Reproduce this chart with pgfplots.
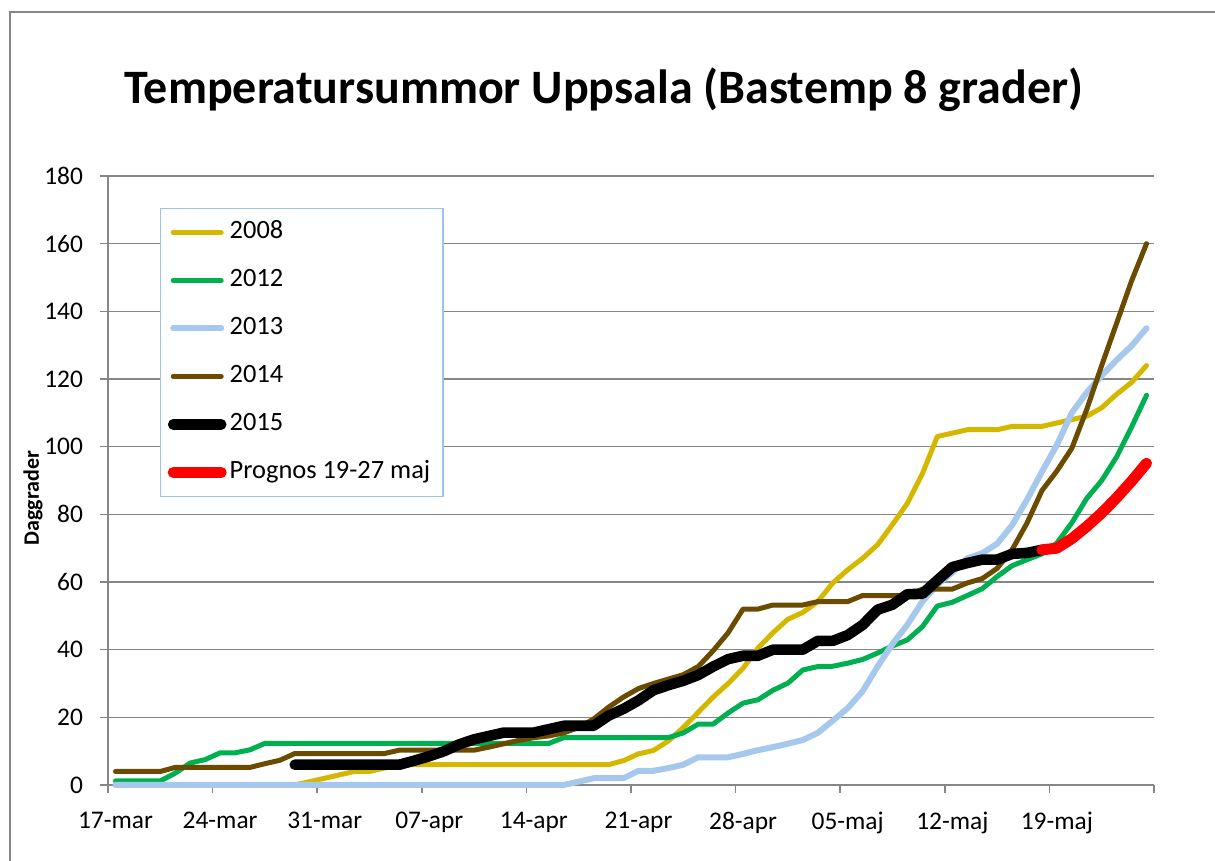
\documentclass[border=0pt]{standalone}
\usepackage{pgfplots}
\pgfplotsset{compat=1.18}
\usepackage{pgfplotstable}
\usepackage{fontspec}
\setmainfont{Carlito}
\definecolor{c2008}{HTML}{D4B800}
\definecolor{c2012}{HTML}{00B050}
\definecolor{c2013}{HTML}{A6C8EC}
\definecolor{c2014}{HTML}{6B4B00}
\definecolor{axgray}{HTML}{868686}
\definecolor{legblue}{HTML}{9DC3E6}

% i = day index (0 = 17 mar, 69 = 25 maj)
\pgfplotstableread{
i  a     b     c     d     e     f
0  0     1.2   0     4     nan   nan
1  0     1.2   0     4     nan   nan
2  0     1.2   0     4     nan   nan
3  0     1.2   0     4     nan   nan
4  0     3.5   0     5.2   nan   nan
5  0     6.5   0     5.2   nan   nan
6  0     7.5   0     5.2   nan   nan
7  0     9.5   0     5.2   nan   nan
8  0     9.5   0     5.2   nan   nan
9  0     10.4  0     5.2   nan   nan
10 0     12.3  0     6.3   nan   nan
11 0     12.3  0     7.3   nan   nan
12 0     12.3  0     9.3   6     nan
13 1     12.3  0     9.3   6     nan
14 2     12.3  0     9.3   6     nan
15 3     12.3  0     9.3   6     nan
16 4     12.3  0     9.3   6     nan
17 4     12.3  0     9.3   6     nan
18 5     12.3  0     9.3   6     nan
19 6     12.3  0     10.3  6     nan
20 6     12.3  0     10.3  7.2   nan
21 6     12.3  0     10.3  8.5   nan
22 6     12.3  0     10.3  10    nan
23 6     12.3  0     10.3  12    nan
24 6     12.3  0     10.3  13.5  nan
25 6     12.3  0     11.2  14.5  nan
26 6     12.3  0     12.2  15.5  nan
27 6     12.3  0     13.2  15.5  nan
28 6     12.3  0     14    15.5  nan
29 6     12.3  0     14.5  16.5  nan
30 6     14    0     15.4  17.5  nan
31 6     14    1     17    17.5  nan
32 6     14    2     19.5  17.5  nan
33 6     14    2     23    20.5  nan
34 7.2   14    2     26    22.5  nan
35 9.2   14    4.2   28.5  25    nan
36 10.2  14    4.2   30    28    nan
37 13    14    5     31.3  29.5  nan
38 17    15.4  6     32.6  30.8  nan
39 21.5  18    8.2   35    32.5  nan
40 26    18    8.2   39.7  35    nan
41 30    21.3  8.2   45    37.2  nan
42 34.5  24.2  9.2   52    38.2  nan
43 40.5  25.2  10.3  52    38.2  nan
44 45    28    11.2  53.2  40    nan
45 49    30.1  12.2  53.2  40    nan
46 51    34    13.3  53.2  40    nan
47 54.2  35    15.4  54.2  42.6  nan
48 59.7  35.1  19    54.2  42.6  nan
49 63.6  36    22.7  54.2  44.3  nan
50 67    37.1  27.7  56    47.3  nan
51 71    39    35    56    51.8  nan
52 77    41.1  41.7  56    53.3  nan
53 83.3  42.9  47.4  56    56.4  nan
54 92    46.8  54.2  57.9  56.5  nan
55 103   52.9  59.2  57.9  60.5  nan
56 104   54    62.8  57.9  64.4  nan
57 105   56    67    59.7  65.6  nan
58 105   58    68.5  61    66.6  nan
59 105   61.6  71.3  64    66.6  nan
60 106   64.8  76.8  69.5  68.3  nan
61 106   66.6  84.3  77.4  68.6  nan
62 106   68.3  92.6  87    69.5  69.5
63 107   71.5  100.5 92.8  nan   70
64 108   77.5  110   99.5  nan   72.8
65 109   84.7  116   111   nan   76.4
66 111.5 90    121   124   nan   80.4
67 115.5 97    125.6 136.5 nan   84.9
68 119   105.8 129.8 149   nan   89.8
69 124   115.2 135   160   nan   95.1
}\data

\begin{document}
\begin{tikzpicture}
\begin{axis}[
  scale only axis, width=523pt, height=304.5pt,
  xmin=-0.5, xmax=69.5, ymin=0, ymax=180,
  clip=false,
  axis x line=bottom, axis y line=left,
  axis line style={draw=axgray, line width=0.75pt, -},
  xtick={-0.5,6.5,...,62.5},
  xticklabels={17-mar,24-mar,31-mar,07-apr,14-apr,21-apr,28-apr,05-maj,12-maj,19-maj},
  extra x ticks={69.5}, extra x tick labels={},
  xticklabel style={xshift=3.75pt, yshift=-6pt},
  yticklabel style={xshift=-5pt},
  ytick={0,20,...,180},
  ymajorgrids, grid style={draw=axgray, line width=0.75pt},
  tick align=outside, major tick length=4pt,
  tick style={draw=axgray, line width=0.75pt},
  tick label style={font=\fontsize{12.7}{15}\selectfont},
  /pgf/number format/assume math mode=true,
  title={Temperatursummor Uppsala (Bastemp 8 grader)},
  title style={font=\bfseries\fontsize{24}{28}\selectfont, at={(axis description cs:0.474,1.100)}, anchor=base},
  ylabel={Daggrader},
  ylabel style={font=\bfseries\fontsize{11}{13}\selectfont, at={(axis description cs:-0.0717,0.471)}, anchor=center},
  no markers,
  every axis plot/.append style={line join=round, line cap=round},
  legend style={at={(axis description cs:0.0497,0.948)}, anchor=north west, draw=legblue, line width=0.75pt, fill=white,
    inner xsep=3.5pt, inner ysep=6pt, row sep=12pt, column sep=1.5pt,
    font=\fontsize{13.2}{15}\selectfont,
    nodes={inner sep=0pt, text height=9pt, text depth=3pt, anchor=west}},
  legend cell align=left,
  legend image code/.code={\draw[#1, line cap=round] (0pt,0pt) -- (24pt,0pt);},
]
\addplot[c2008, line width=2.5pt] table[x=i,y=a]{\data};
\addlegendentry{2008}
\addplot[c2012, line width=2.5pt] table[x=i,y=b]{\data};
\addlegendentry{2012}
\addplot[c2013, line width=3pt] table[x=i,y=c]{\data};
\addlegendentry{2013}
\addplot[c2014, line width=2.5pt] table[x=i,y=d]{\data};
\addlegendentry{2014}
\addplot[black, line width=5.3pt] table[x=i,y=e]{\data};
\addlegendentry{2015}
\addplot[red, line width=5.5pt] table[x=i,y=f]{\data};
\addlegendentry{Prognos 19-27 maj\hspace*{3pt}}
\end{axis}
\pgfresetboundingbox
\path[use as bounding box] (-54pt,-38pt) rectangle (553.5pt,392.5pt);
\draw[axgray, line width=0.75pt] (-49pt,-60pt) -- (-49pt,386.5pt) -- (620pt,386.5pt);
\end{tikzpicture}
\end{document}
